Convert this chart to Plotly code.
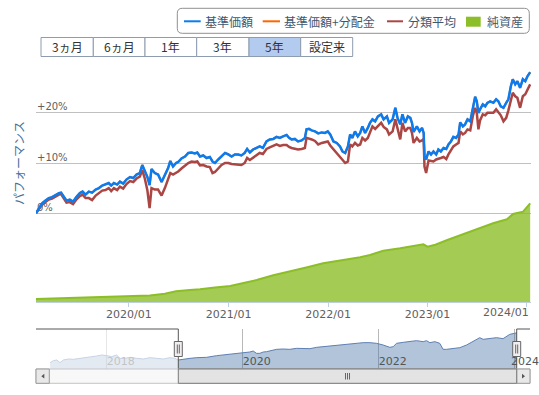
import plotly.graph_objects as go

# ---------------- data ----------------
perf_dates = [
    "2019-01-25", "2019-02-05", "2019-02-17", "2019-03-01", "2019-03-13", "2019-03-25", "2019-04-07",
    "2019-04-19", "2019-04-27", "2019-05-07", "2019-05-17", "2019-05-29", "2019-06-10", "2019-06-22",
    "2019-07-05", "2019-07-15", "2019-07-26", "2019-08-07", "2019-08-19", "2019-09-01", "2019-09-13",
    "2019-09-25", "2019-10-07", "2019-10-19", "2019-10-28", "2019-11-07", "2019-11-19", "2019-11-29",
    "2019-12-11", "2019-12-23", "2020-01-05", "2020-01-17", "2020-01-29", "2020-02-10", "2020-02-19",
    "2020-02-28", "2020-03-09", "2020-03-17", "2020-03-24", "2020-04-05", "2020-04-17", "2020-04-30",
    "2020-05-12", "2020-05-24", "2020-06-01", "2020-06-11", "2020-06-22", "2020-06-30", "2020-07-12",
    "2020-07-25", "2020-08-06", "2020-08-18", "2020-08-30", "2020-09-08", "2020-09-18", "2020-09-30",
    "2020-10-12", "2020-10-24", "2020-11-03", "2020-11-12", "2020-11-24", "2020-12-06", "2020-12-19",
    "2020-12-31", "2021-01-12", "2021-01-24", "2021-02-05", "2021-02-17", "2021-03-01", "2021-03-10",
    "2021-03-20", "2021-04-01", "2021-04-13", "2021-04-25", "2021-05-07", "2021-05-20", "2021-06-01",
    "2021-06-14", "2021-06-26", "2021-07-08", "2021-07-20", "2021-08-02", "2021-08-11", "2021-08-20",
    "2021-09-01", "2021-09-13", "2021-09-26", "2021-10-08", "2021-10-14", "2021-10-23", "2021-11-02",
    "2021-11-14", "2021-11-26", "2021-12-09", "2021-12-21", "2021-12-31", "2022-01-09", "2022-01-21",
    "2022-02-02", "2022-02-14", "2022-02-23", "2022-03-05", "2022-03-15", "2022-03-23", "2022-03-31",
    "2022-04-10", "2022-04-20", "2022-04-29", "2022-05-07", "2022-05-17", "2022-05-27", "2022-06-04",
    "2022-06-13", "2022-06-23", "2022-07-03", "2022-07-15", "2022-07-24", "2022-08-05", "2022-08-13",
    "2022-08-26", "2022-09-05", "2022-09-13", "2022-09-23", "2022-10-01", "2022-10-11", "2022-10-21",
    "2022-10-30", "2022-11-05", "2022-11-11", "2022-11-23", "2022-12-03", "2022-12-12", "2022-12-18",
    "2022-12-21", "2022-12-27", "2023-01-05", "2023-01-14", "2023-01-23", "2023-02-02", "2023-02-10",
    "2023-02-19", "2023-03-01", "2023-03-11", "2023-03-19", "2023-03-28", "2023-04-06", "2023-04-16",
    "2023-04-25", "2023-05-01", "2023-05-11", "2023-05-19", "2023-05-28", "2023-06-07", "2023-06-17",
    "2023-06-25", "2023-07-01", "2023-07-07", "2023-07-13", "2023-07-23", "2023-08-01", "2023-08-09",
    "2023-08-19", "2023-08-31", "2023-09-10", "2023-09-18", "2023-09-27", "2023-10-07", "2023-10-17",
    "2023-10-25", "2023-11-03", "2023-11-10", "2023-11-19", "2023-11-27", "2023-12-07", "2023-12-17",
    "2023-12-26", "2024-01-03", "2024-01-13",
]

# 基準価額 (%)
nav_perf = [
    0.0, 1.0, 2.0, 2.5, 3.0, 3.2, 3.7,
    4.0, 4.1, 3.2, 2.5, 2.7, 2.3, 3.2,
    4.0, 4.3, 3.7, 4.3, 4.1, 4.7, 5.0,
    5.5, 5.7, 6.0, 5.5, 6.0, 5.7, 6.3,
    5.9, 6.7, 7.2, 7.0, 7.7, 8.0, 9.6,
    8.4, 7.2, 5.6, 8.8, 8.0, 7.7, 6.2,
    7.5, 9.0, 10.4, 9.3, 10.0, 10.2, 10.9,
    11.3, 12.0, 12.1, 11.9, 12.1, 11.3, 11.5,
    11.0, 11.2, 10.3, 10.0, 10.7, 11.3, 12.0,
    11.7, 11.3, 11.7, 11.7, 11.5, 12.0, 12.8,
    12.1, 12.7, 13.0, 13.3, 13.0, 14.3, 14.7,
    14.8, 15.2, 15.0, 15.3, 15.6, 15.0, 14.7,
    14.8, 14.3, 14.5, 15.0, 16.7, 16.8, 16.5,
    16.3, 15.9, 16.1, 16.0, 16.3, 15.7, 14.3,
    14.0, 13.3, 12.3, 12.0, 13.3, 15.7, 15.0,
    16.3, 15.3, 16.0, 17.3, 16.0, 17.0, 18.0,
    18.7, 18.3, 19.3, 19.7, 18.7, 19.3, 18.0,
    18.7, 21.0, 19.0, 17.7, 19.7, 18.0, 19.3,
    19.0, 18.0, 16.2, 17.3, 16.3, 17.0, 16.0,
    11.3, 10.7, 12.3, 11.7, 12.3, 11.7, 12.7,
    12.3, 13.0, 12.8, 13.7, 14.3, 15.2, 15.0,
    15.7, 18.1, 17.3, 17.7, 18.7, 18.3, 21.3,
    23.2, 22.3, 20.0, 20.7, 21.7, 21.3, 22.0,
    22.3, 22.0, 22.7, 22.3, 21.3, 21.0, 22.0,
    22.7, 25.3, 26.7, 25.7, 26.3, 25.0, 26.7,
    26.3, 27.3, 28.1,
]

# 基準価額+分配金 (%) — no distributions in this period, identical to 基準価額
nav_dist_perf = list(nav_perf)

# 分類平均 (%)
category_perf = [
    0.0, 0.8, 1.7, 2.2, 2.7, 2.9, 3.4,
    3.7, 3.8, 2.9, 2.1, 2.2, 1.8, 2.7,
    3.4, 3.7, 3.0, 3.0, 2.6, 3.5, 4.0,
    4.5, 4.6, 5.0, 4.4, 5.0, 4.6, 5.3,
    4.9, 5.8, 6.4, 6.2, 6.9, 7.3, 8.6,
    7.0, 4.5, 1.0, 5.0, 4.7, 4.7, 3.5,
    5.0, 6.7, 8.0, 7.7, 8.0, 8.3, 8.9,
    9.5, 10.0, 10.3, 10.2, 10.3, 9.5, 9.6,
    9.3, 9.2, 8.0, 8.2, 9.0, 9.6, 10.0,
    10.0, 9.8, 9.7, 9.7, 9.6, 10.0, 11.0,
    10.6, 11.1, 11.6, 12.0, 11.8, 12.8, 13.1,
    13.5, 13.7, 13.4, 13.6, 13.6, 13.2, 13.0,
    12.9, 12.7, 12.8, 13.0, 15.0, 14.9, 14.7,
    14.4, 13.7, 14.0, 14.1, 14.3, 13.5, 12.7,
    12.0, 11.2, 10.5, 10.0, 10.3, 13.7, 13.3,
    14.0, 13.5, 13.7, 15.0, 14.5, 15.0, 16.0,
    17.3, 16.8, 17.3, 18.0, 17.2, 16.7, 15.7,
    16.3, 18.7, 17.0, 14.7, 18.0, 16.3, 17.0,
    17.0, 16.0, 14.0, 15.0, 14.3, 14.5, 14.8,
    9.3, 8.0, 10.5, 10.4, 10.3, 10.7, 10.8,
    11.0, 11.2, 10.8, 11.7, 12.5, 13.3, 13.7,
    14.0, 16.3, 15.7, 16.0, 16.7, 16.5, 19.5,
    21.0, 20.0, 16.7, 18.5, 19.7, 19.5, 20.0,
    20.0, 20.0, 20.7, 20.2, 19.5, 18.3, 19.0,
    20.5, 22.7, 24.0, 23.3, 23.0, 21.0, 23.3,
    23.7, 24.7, 25.7,
]

# 純資産 (億円)
asset_dates = [
    "2019-01-25", "2019-04-22", "2019-07-05", "2019-10-05", "2020-01-05", "2020-03-18", "2020-05-12",
    "2020-06-22", "2020-08-12", "2020-09-18", "2020-11-12", "2021-01-07", "2021-03-01", "2021-04-14",
    "2021-06-14", "2021-08-15", "2021-10-17", "2021-12-14", "2022-01-20", "2022-03-12", "2022-04-29",
    "2022-06-04", "2022-07-23", "2022-09-23", "2022-11-06", "2022-12-17", "2023-01-01", "2023-01-30",
    "2023-03-15", "2023-05-01", "2023-06-18", "2023-07-13", "2023-08-30", "2023-10-20", "2023-11-11",
    "2023-12-18", "2024-01-13",
]
net_assets = [
    33, 40, 48, 55, 62, 68, 85,
    110, 123, 130, 148, 163, 195, 223,
    270, 306, 350, 390, 406, 423, 450,
    473, 516, 540, 560, 580, 556, 575,
    623, 670, 716, 740, 790, 830, 883,
    906, 990,
]

# navigator: 基準価額 (円), since inception
navi_dates = [
    "2017-03-03", "2017-03-20", "2017-04-08", "2017-04-25", "2017-05-13", "2017-06-09", "2017-07-06",
    "2017-08-11", "2017-09-16", "2017-10-13", "2017-11-08", "2017-12-05", "2018-01-01", "2018-01-28",
    "2018-02-23", "2018-03-13", "2018-04-09", "2018-05-06", "2018-06-11", "2018-07-16", "2018-08-21",
    "2018-09-26", "2018-11-01", "2018-12-06", "2019-01-02", "2019-01-20", "2019-02-16", "2019-03-24",
    "2019-04-29", "2019-06-21", "2019-08-14", "2019-09-19", "2019-10-24", "2019-11-29", "2020-01-03",
    "2020-02-08", "2020-02-26", "2020-03-15", "2020-04-02", "2020-04-20", "2020-05-08", "2020-05-26",
    "2020-07-01", "2020-08-05", "2020-09-10", "2020-10-16", "2020-11-21", "2020-12-27", "2021-02-01",
    "2021-03-09", "2021-04-14", "2021-05-20", "2021-06-24", "2021-07-30", "2021-08-17", "2021-09-04",
    "2021-10-09", "2021-11-14", "2021-12-20", "2022-01-24", "2022-03-01", "2022-03-19", "2022-04-06",
    "2022-05-12", "2022-06-17", "2022-07-22", "2022-08-27", "2022-09-14", "2022-10-02", "2022-10-29",
    "2022-11-24", "2022-12-12", "2022-12-30", "2023-02-04", "2023-03-12", "2023-04-17", "2023-05-05",
    "2023-06-10", "2023-06-27", "2023-07-15", "2023-08-20", "2023-09-25", "2023-10-30", "2023-11-17",
    "2023-12-05", "2023-12-31", "2024-01-13",
]
navi_values = [
    9725, 9931, 10000, 9725, 10000, 10103, 10069,
    10172, 10343, 10343, 10412, 10515, 10446, 10343,
    10515, 10172, 10172, 10275, 10172, 10103, 10240,
    10172, 10103, 10240, 10172, 10000, 10103, 10172,
    10240, 10275, 10446, 10515, 10618, 10687, 10687,
    10824, 10927, 10687, 10687, 10824, 10858, 10961,
    11099, 11133, 11099, 11202, 11202, 11167, 11305,
    11373, 11442, 11511, 11579, 11614, 11717, 11717,
    11785, 11785, 11717, 11545, 11305, 11373, 11717,
    11820, 11888, 11991, 11888, 11991, 11785, 11888,
    11717, 11099, 11099, 11202, 11270, 11545, 11717,
    12060, 12300, 12129, 12232, 12300, 12197, 12403,
    12644, 12747, 12800,
]

year_ticks = ["2020-01-01", "2021-01-01", "2022-01-01", "2023-01-01", "2024-01-01"]
year_labels = ["2020/01", "2021/01", "2022/01", "2023/01", "2024/01"]
navi_ticks = ["2018-01-01", "2020-01-01", "2022-01-01", "2024-01-01"]
navi_labels = ["2018", "2020", "2022", "2024"]
perf_ticks = [-10, 0, 10, 20, 30]
perf_labels = ["", "0%", "+10%", "+20%", ""]
range_buttons = ["3ヵ月", "6ヵ月", "1年", "3年", "5年", "設定来"]
active_button = 4

series_names = ["基準価額", "基準価額+分配金", "分類平均", "純資産"]
series_colors = ["#0a7cf0", "#ff6600", "#aa4643", "#8cbe28"]

# ---------------- geometry helpers (layout only) ----------------
W, H = 539, 395
ML, MR = 36, 8
PW = W - ML - MR


def fx(px):
    return (px - ML) / PW


def fy(py):
    return 1 - py / H


JP = "Noto Sans CJK JP"
NUMF = "DejaVu Sans"

fig = go.Figure()

fig.add_trace(go.Scatter(
    x=asset_dates, y=net_assets, name=series_names[3], yaxis="y2", xaxis="x",
    mode="lines", fill="tozeroy", fillcolor="rgba(136,188,30,0.76)",
    line=dict(color=series_colors[3], width=2), showlegend=False, hoverinfo="skip"))
fig.add_trace(go.Scatter(
    x=perf_dates, y=category_perf, name=series_names[2], yaxis="y", xaxis="x",
    mode="lines", line=dict(color=series_colors[2], width=2.5), showlegend=False))
fig.add_trace(go.Scatter(
    x=perf_dates, y=nav_dist_perf, name=series_names[1], yaxis="y", xaxis="x",
    mode="lines", line=dict(color=series_colors[1], width=2), showlegend=False))
fig.add_trace(go.Scatter(
    x=perf_dates, y=nav_perf, name=series_names[0], yaxis="y", xaxis="x",
    mode="lines", line=dict(color=series_colors[0], width=2.5), showlegend=False))

# navigator series
fig.add_trace(go.Scatter(
    x=navi_dates, y=navi_values, xaxis="x2", yaxis="y3", mode="lines",
    fill="tozeroy", fillcolor="rgba(69,114,167,0.42)",
    line=dict(color="#5e7fb2", width=1), showlegend=False, hoverinfo="skip"))

shapes = []
annotations = []

# ---- legend box (rounded) ----
lx0, lx1, ly0, ly1, r = 177.3, 529.3, 8.3, 33.3, 5
pts = [("M", lx0 + r, ly0), ("L", lx1 - r, ly0), ("Q", lx1, ly0, lx1, ly0 + r),
       ("L", lx1, ly1 - r), ("Q", lx1, ly1, lx1 - r, ly1), ("L", lx0 + r, ly1),
       ("Q", lx0, ly1, lx0, ly1 - r), ("L", lx0, ly0 + r), ("Q", lx0, ly0, lx0 + r, ly0)]
path = ""
for p in pts:
    if p[0] == "Q":
        path += "Q{},{} {},{} ".format(fx(p[1]), fy(p[2]), fx(p[3]), fy(p[4]))
    else:
        path += "{}{},{} ".format(p[0], fx(p[1]), fy(p[2]))
path += "Z"
shapes.append(dict(type="path", xref="paper", yref="paper", path=path,
                   fillcolor="white", line=dict(color="#909090", width=1), layer="above"))
leg_sym = [(184, 200.7), (262.7, 280), (387, 403)]
leg_txt = [205, 284, 408, 486.7]
for i in range(3):
    shapes.append(dict(type="line", xref="paper", yref="paper",
                       x0=fx(leg_sym[i][0]), x1=fx(leg_sym[i][1]), y0=fy(21.3), y1=fy(21.3),
                       line=dict(color=series_colors[i], width=2), layer="above"))
shapes.append(dict(type="rect", xref="paper", yref="paper",
                   x0=fx(466), x1=fx(480.7), y0=fy(26.7), y1=fy(16.7),
                   fillcolor="#8cbe28", line=dict(width=0), layer="above"))
for i in range(4):
    annotations.append(dict(xref="paper", yref="paper", x=fx(leg_txt[i]), y=fy(21.5),
                            text=series_names[i], showarrow=False, xanchor="left",
                            yanchor="middle", xshift=-2,
                            font=dict(family=JP, size=12, color="#3e576f")))

# ---- range selector buttons ----
edges = [41, 93.3, 145, 196.7, 249, 300.7, 352.7]
for i, lab in enumerate(range_buttons):
    shapes.append(dict(type="rect", xref="paper", yref="paper",
                       x0=fx(edges[i]), x1=fx(edges[i + 1]), y0=fy(56.5), y1=fy(37.5),
                       fillcolor="#b3cbee" if i == active_button else "#ffffff",
                       line=dict(color="#8d9cae", width=1), layer="above"))
    annotations.append(dict(xref="paper", yref="paper",
                            x=fx((edges[i] + edges[i + 1]) / 2), y=fy(47),
                            text=lab, showarrow=False, xanchor="center", yanchor="middle",
                            font=dict(family=JP, size=12, color="#333333")))

# ---- last-tick labels justified inside the chart (as the original does) ----
annotations.append(dict(xref="x", yref="paper", x=year_ticks[-1], y=fy(312.5),
                        text=year_labels[-1], showarrow=False, xanchor="right",
                        yanchor="middle", xshift=4,
                        font=dict(family=NUMF, size=11, color="#606060")))
annotations.append(dict(xref="x2", yref="paper", x=navi_ticks[-1], y=fy(361),
                        text=navi_labels[-1], showarrow=False, xanchor="left",
                        yanchor="middle", xshift=-6,
                        font=dict(family=NUMF, size=11, color="#555555")))

# ---- navigator mask over unselected range ----
shapes.append(dict(type="rect", xref="paper", yref="paper",
                   x0=fx(36), x1=fx(178.3), y0=fy(369), y1=fy(329),
                   fillcolor="rgba(255,255,255,0.65)", line=dict(width=0), layer="above"))

# navigator outline
outline = "M{},{} L{},{} L{},{} L{},{} L{},{} L{},{}".format(
    fx(36), fy(329), fx(178.3), fy(329), fx(178.3), fy(369),
    fx(516.7), fy(369), fx(516.7), fy(329), fx(530), fy(329))
shapes.append(dict(type="path", xref="paper", yref="paper", path=outline,
                   line=dict(color="#555555", width=1), layer="above"))

# ---- scrollbar ----
shapes.append(dict(type="rect", xref="paper", yref="paper",
                   x0=fx(36), x1=fx(530), y0=fy(383.3), y1=fy(369),
                   fillcolor="#f8f8f8", line=dict(color="#c4c4c4", width=1), layer="above"))
for bx0, bx1 in [(36, 49.3), (516.7, 530)]:
    shapes.append(dict(type="rect", xref="paper", yref="paper",
                       x0=fx(bx0), x1=fx(bx1), y0=fy(383.3), y1=fy(369),
                       fillcolor="#e8e8e8", line=dict(color="#9a9a9a", width=1), layer="above"))
shapes.append(dict(type="rect", xref="paper", yref="paper",
                   x0=fx(178.3), x1=fx(516.7), y0=fy(383.3), y1=fy(369),
                   fillcolor="#e3e3e3", line=dict(color="#7a7a7a", width=1), layer="above"))
for rx in [345.5, 347.5, 349.5]:
    shapes.append(dict(type="line", xref="paper", yref="paper",
                       x0=fx(rx), x1=fx(rx), y0=fy(379.5), y1=fy(373),
                       line=dict(color="#666666", width=1), layer="above"))
shapes.append(dict(type="path", xref="paper", yref="paper",
                   path="M{},{} L{},{} L{},{} Z".format(fx(44.3), fy(373.8), fx(41.3), fy(376.2),
                                                      fx(44.3), fy(378.6)),
                   fillcolor="#555555", line=dict(width=0), layer="above"))
shapes.append(dict(type="path", xref="paper", yref="paper",
                   path="M{},{} L{},{} L{},{} Z".format(fx(522), fy(373.8), fx(525), fy(376.2),
                                                      fx(522), fy(378.6)),
                   fillcolor="#555555", line=dict(width=0), layer="above"))

# navigator handles
for hx in [178.3, 516.7]:
    shapes.append(dict(type="rect", xref="paper", yref="paper",
                       x0=fx(hx - 4), x1=fx(hx + 4), y0=fy(356.5), y1=fy(341.5),
                       fillcolor="#f0eeee", line=dict(color="#666666", width=1), layer="above"))
    for dx in [-1, 1]:
        shapes.append(dict(type="line", xref="paper", yref="paper",
                           x0=fx(hx + dx), x1=fx(hx + dx), y0=fy(353.5), y1=fy(344.5),
                           line=dict(color="#666666", width=1), layer="above"))

fig.update_layout(
    width=W, height=H, autosize=False,
    margin=dict(l=ML, r=MR, t=0, b=0, autoexpand=False),
    paper_bgcolor="white", plot_bgcolor="rgba(0,0,0,0)",
    font=dict(family=JP, size=12, color="#333333"),
    showlegend=False,
    xaxis=dict(domain=[0, 1], anchor="y2", type="date", automargin=False,
               range=["2019-01-25", "2024-01-16"],
               tickmode="array", tickvals=year_ticks, ticktext=year_labels[:-1] + [""],
               ticks="outside", ticklen=4, tickcolor="#c0d0e0",
               ticklabelstandoff=-3,
               showgrid=False, showline=True, linecolor="#c0d0e0", zeroline=False,
               tickfont=dict(family=NUMF, size=11, color="#606060")),
    yaxis=dict(domain=[fy(263.3), fy(62.7)], anchor="x", range=[-10, 30], automargin=False,
               tickmode="array", tickvals=perf_ticks, ticktext=perf_labels,
               ticklabelposition="inside top", ticklabeloverflow="allow",
               ticklabelstandoff=-2, ticklabelshift=1,
               showgrid=True, gridcolor="#c0c0c0", gridwidth=1, zeroline=False,
               showline=False, ticks="", layer="below traces",
               tickfont=dict(family=NUMF, size=10, color="#606060"),
               title=dict(text="パフォーマンス", standoff=9,
                          font=dict(family=JP, size=12, color="#4a6d95"))),
    yaxis2=dict(domain=[fy(302.3), fy(62.7)], anchor="x", range=[0, 2396],
                visible=False, showgrid=False, automargin=False),
    xaxis2=dict(domain=[0, fx(517.6)], anchor="y3", type="date", automargin=False,
                range=["2016-12-17", "2024-01-16"],
                tickmode="array", tickvals=navi_ticks, ticktext=navi_labels[:-1] + [""],
                ticklabelposition="inside right", ticklabeloverflow="allow",
                ticklabelstandoff=-4,
                ticks="", showgrid=True, gridcolor="#b8b8b8", showline=False, zeroline=False,
                tickfont=dict(family=NUMF, size=11, color="#555555")),
    yaxis3=dict(domain=[fy(369), fy(329)], anchor="x2", range=[9073, 13193],
                visible=False, showgrid=False, automargin=False),
    shapes=shapes,
    annotations=annotations,
    hovermode=False,
)

fig.write_html("out.html", config={"displayModeBar": False},
               post_script="document.body.style.margin='0';document.body.style.overflow='hidden';")
